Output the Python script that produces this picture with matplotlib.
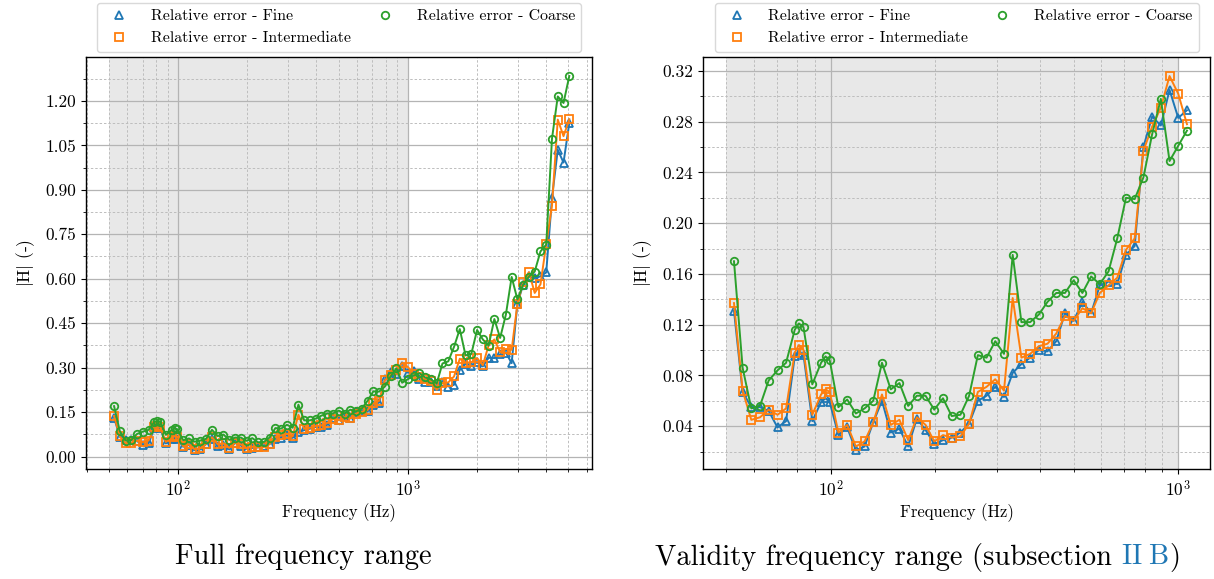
import numpy as np
import matplotlib
matplotlib.use('Agg')
import matplotlib.pyplot as plt
from matplotlib.ticker import MultipleLocator, AutoMinorLocator, FormatStrFormatter, NullFormatter
from matplotlib.lines import Line2D

# ---------------- data ----------------
freq = [52.6, 55.7, 59.0, 62.5, 66.2, 70.2, 74.3, 78.7, 80.9, 83.4, 88.4, 93.7, 96.5, 99.2,
        105.1, 111.4, 118.0, 125.0, 132.4, 140.3, 148.7, 157.5, 166.9, 176.8, 187.3, 198.4,
        210.2, 222.7, 236.0, 250.0, 264.9, 280.6, 297.3, 315.0, 333.7, 353.6, 374.6, 396.9,
        420.4, 445.4, 471.9, 500.0, 529.7, 561.2, 594.6, 630.0, 667.4, 707.1, 749.2, 793.7,
        840.9, 890.9, 943.9, 1000.0, 1059.5, 1122.5, 1189.2, 1259.9, 1334.8, 1414.2, 1498.3,
        1587.4, 1681.8, 1781.8, 1887.7, 2000.0, 2118.9, 2244.9, 2378.4, 2519.8, 2669.6,
        2828.4, 2996.6, 3174.8, 3363.6, 3563.6, 3775.5, 4000.0, 4237.9, 4489.8, 4756.8, 5039.7]

fine = [0.131, 0.067, 0.055, 0.055, 0.052, 0.039, 0.044, 0.095, 0.098, 0.096, 0.044, 0.059,
        0.062, 0.059, 0.033, 0.039, 0.021, 0.024, 0.043, 0.060, 0.035, 0.038, 0.024, 0.046,
        0.037, 0.026, 0.029, 0.031, 0.035, 0.042, 0.060, 0.064, 0.071, 0.063, 0.082, 0.089,
        0.094, 0.100, 0.099, 0.107, 0.129, 0.123, 0.138, 0.129, 0.151, 0.154, 0.152, 0.175,
        0.182, 0.260, 0.284, 0.277, 0.305, 0.283, 0.289,
        0.261, 0.253, 0.250, 0.238, 0.253, 0.236, 0.242, 0.292, 0.312, 0.306, 0.318, 0.304,
        0.333, 0.332, 0.345, 0.350, 0.315, 0.516, 0.580, 0.608, 0.602, 0.608, 0.621, 0.873,
        1.035, 0.992, 1.125]

intermediate = [0.137, 0.068, 0.045, 0.047, 0.053, 0.049, 0.054, 0.098, 0.104, 0.100, 0.049,
                0.065, 0.069, 0.067, 0.035, 0.041, 0.024, 0.028, 0.043, 0.065, 0.041, 0.045,
                0.029, 0.047, 0.041, 0.028, 0.033, 0.031, 0.032, 0.042, 0.067, 0.071, 0.077,
                0.068, 0.141, 0.094, 0.097, 0.103, 0.105, 0.113, 0.127, 0.123, 0.133, 0.129,
                0.145, 0.151, 0.157, 0.179, 0.188, 0.257, 0.276, 0.291, 0.316, 0.302, 0.278,
                0.268, 0.262, 0.256, 0.225, 0.248, 0.250, 0.270, 0.330, 0.317, 0.318, 0.332,
                0.308, 0.375, 0.395, 0.352, 0.363, 0.360, 0.515, 0.588, 0.622, 0.552, 0.581,
                0.716, 0.847, 1.137, 1.081, 1.138]

coarse = [0.170, 0.086, 0.054, 0.056, 0.076, 0.084, 0.090, 0.116, 0.121, 0.118, 0.073, 0.090,
          0.095, 0.092, 0.055, 0.061, 0.050, 0.054, 0.060, 0.090, 0.069, 0.074, 0.056, 0.064,
          0.064, 0.053, 0.062, 0.048, 0.049, 0.064, 0.096, 0.094, 0.107, 0.097, 0.175, 0.122,
          0.122, 0.128, 0.138, 0.145, 0.145, 0.155, 0.145, 0.158, 0.152, 0.162, 0.188, 0.220,
          0.219, 0.236, 0.270, 0.298, 0.249, 0.261, 0.273,
          0.281, 0.267, 0.260, 0.247, 0.314, 0.321, 0.370, 0.430, 0.341, 0.346, 0.427, 0.395,
          0.374, 0.464, 0.400, 0.479, 0.606, 0.530, 0.580, 0.607, 0.624, 0.692, 0.715, 1.073,
          1.215, 1.193, 1.284]

labels = ['Relative error - Fine', 'Relative error - Intermediate', 'Relative error - Coarse']
validity_band = [50.0, 1000.0]
validity_max_freq = 1100.0

# ---------------- style ----------------
plt.rcParams.update({
    'font.family': 'serif',
    'font.serif': ['cmr10'],
    'mathtext.fontset': 'cm',
    'axes.formatter.use_mathtext': True,
    'axes.unicode_minus': False,
})

colors = ['#1f77b4', '#ff7f0e', '#2ca02c']
markers = ['^', 's', 'o']
series = [fine, intermediate, coarse]

W, H = 1214, 579
fig = plt.figure(figsize=(W / 100, H / 100), dpi=100)
ax_top, ax_bot = 57.3, 469.0
ax1 = fig.add_axes([86 / W, 1 - ax_bot / H, (592.3 - 86) / W, (ax_bot - ax_top) / H])
ax2 = fig.add_axes([703.3 / W, 1 - ax_bot / H, (1210 - 703.3) / W, (ax_bot - ax_top) / H])

f = np.array(freq)
MS, MEW = 5.4, 1.3


def draw(ax, mask, ystep):
    ax.set_xscale('log')
    ax.axvspan(validity_band[0], validity_band[1], color='#e8e8e8', zorder=0.2, lw=0)
    for vals, c, m in zip(series, colors, markers):
        v = np.array(vals)
        ax.plot(f[mask], v[mask], color=c, lw=1.4, marker=m, ms=MS, mfc='none',
                mec=c, mew=MEW, zorder=3)
    ax.set_axisbelow(True)
    ax.yaxis.set_major_locator(MultipleLocator(ystep))
    ax.yaxis.set_minor_locator(AutoMinorLocator(2))
    ax.yaxis.set_major_formatter(FormatStrFormatter('%.2f'))
    ax.xaxis.set_minor_formatter(NullFormatter())
    ax.grid(which='major', color='#b4b4b4', lw=0.9, ls='-')
    ax.grid(which='minor', color='#bdbdbd', lw=0.7, ls=(0, (2.5, 2)))
    ax.tick_params(which='major', direction='out', length=3.5, width=0.8, labelsize=12.5)
    ax.tick_params(which='minor', direction='out', length=2, width=0.6)
    for s in ax.spines.values():
        s.set_linewidth(1.0)
    ax.set_xlabel('Frequency (Hz)', fontsize=12, labelpad=3)
    ax.set_ylabel(r'$|\mathrm{H}|$ (-)', fontsize=12.5, labelpad=6)
    handles = [Line2D([], [], ls='none', marker=m, ms=MS, mfc='none', mec=c, mew=MEW)
               for c, m in zip(colors, markers)]
    ax.legend(handles, labels, ncol=2, loc='lower center', bbox_to_anchor=(0.5, 1.0),
              fontsize=11.4, frameon=True, edgecolor='#d0d0d0', fancybox=True,
              borderaxespad=0.35, columnspacing=1.15, handletextpad=1.0)


draw(ax1, np.ones(len(f), dtype=bool), 0.15)
draw(ax2, f <= validity_max_freq, 0.04)

# ---------------- sub-captions ----------------
fs = 20.5
ycap = 1 - 557 / H
fig.text(0.25, ycap, 'Full frequency range', ha='center', va='center', fontsize=fs)

fig.canvas.draw()
renderer = fig.canvas.get_renderer()


def text_width(s):
    t = fig.text(0, 0, s, fontsize=fs)
    w = t.get_window_extent(renderer).width
    t.remove()
    return w


parts = [('Validity frequency range (subsection', 'black'),
         (r'$\mathrm{II\;B}$', '#1f77b4'),
         (')', 'black')]
space = text_width('a b') - text_width('ab')
widths = [text_width(p) for p, _ in parts]
total = widths[0] + space + widths[1] + widths[2]
x = 0.756 * W - total / 2
for (p, c), w, gap in zip(parts, widths, [space, 0, 0]):
    fig.text(x / W, ycap, p, ha='left', va='center', fontsize=fs, color=c)
    x += w + gap

fig.savefig('out.png', dpi=100)
